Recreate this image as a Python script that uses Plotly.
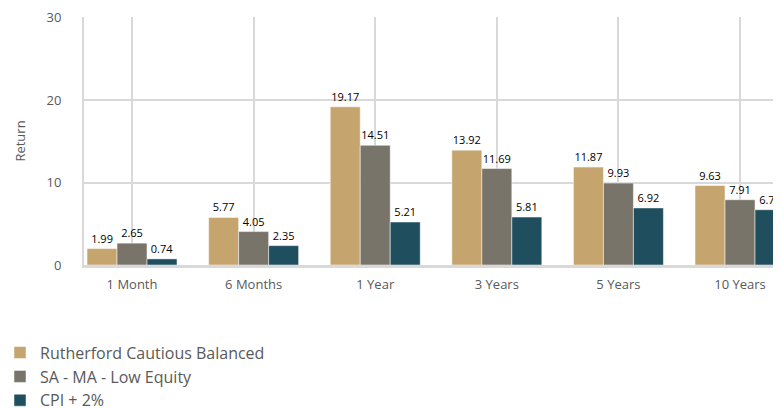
import plotly.graph_objects as go

categories = ["1 Month", "6 Months", "1 Year", "3 Years", "5 Years", "10 Years"]
series_names = ["Rutherford Cautious Balanced", "SA - MA - Low Equity", "CPI + 2%"]
rutherford = [1.99, 5.77, 19.17, 13.92, 11.87, 9.63]
sa_ma_low = [2.65, 4.05, 14.51, 11.69, 9.93, 7.91]
cpi_plus2 = [0.74, 2.35, 5.21, 5.81, 6.92, 6.70]
y_ticks = [0, 10, 20, 30]

colors = ["#C5A46D", "#797469", "#1F4E5E"]
values = [rutherford, sa_ma_low, cpi_plus2]

fig = go.Figure()
for name, vals, col in zip(series_names, values, colors):
    fig.add_trace(go.Bar(
        x=list(range(len(categories))), y=vals, name=name,
        marker=dict(color=col, line=dict(color="white", width=0.5)),
        text=[f"{v:.2f}" for v in vals], textposition="outside",
        textfont=dict(family="Open Sans", size=11, color="#000000"),
        cliponaxis=False,
    ))

fig.update_layout(
    width=781, height=408,
    margin=dict(l=76, r=8, t=9, b=151, autoexpand=False),
    barmode="group", bargap=0.26, bargroupgap=0,
    plot_bgcolor="white", paper_bgcolor="white",
    font=dict(family="Open Sans", color="#595959", size=13),
    showlegend=True,
    legend=dict(orientation="v", x=-0.1205, xanchor="left", y=-0.285, yanchor="top",
                font=dict(size=16, color="#595959"), tracegroupgap=0,
                itemclick=False),
    xaxis=dict(
        range=[-0.395, 5.337],
        tickmode="array", tickvals=list(range(len(categories))), ticktext=categories,
        showgrid=True, gridcolor="#D9D9D9", gridwidth=2,
        showline=True, linecolor="#D9D9D9", linewidth=3,
        ticks="", ticklabelstandoff=5, tickfont=dict(size=13, color="#595959"),
        zeroline=False,
    ),
    yaxis=dict(
        range=[0, 30.06], tickmode="array", tickvals=y_ticks,
        ticktext=[str(t) for t in y_ticks],
        showgrid=True, gridcolor="#D9D9D9", gridwidth=2,
        showline=True, linecolor="#D9D9D9", linewidth=2,
        zeroline=False, ticks="", ticklabelstandoff=18,
        tickfont=dict(size=13, color="#595959"),
        title=dict(text="Return", font=dict(size=13, color="#595959"), standoff=18),
    ),
)

fig.write_html("out.html")
